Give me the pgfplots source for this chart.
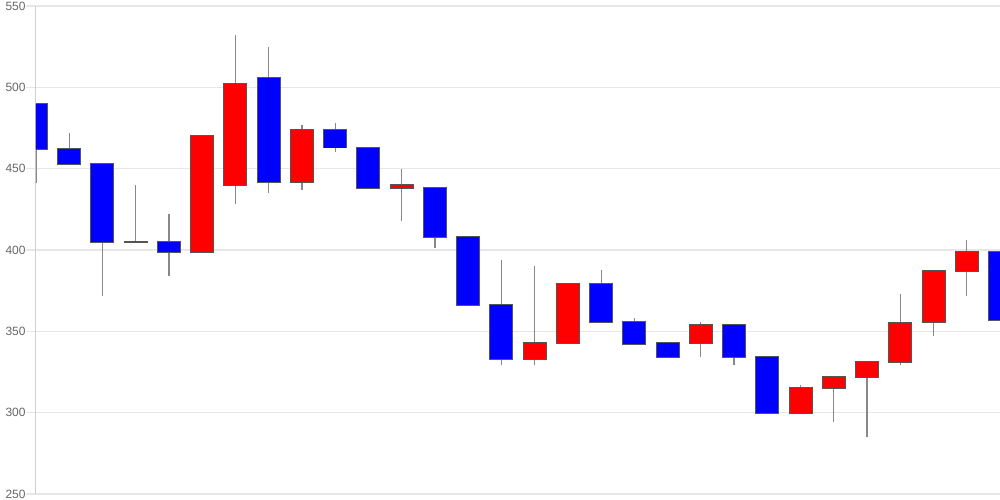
\documentclass[border=0pt]{standalone}
\usepackage{pgfplots}
\pgfplotsset{compat=1.18}
\usepackage{pgfplotstable}
\usepackage{fontspec}
\setmainfont{Liberation Sans}
\definecolor{gridc}{HTML}{E6E6E6}
\definecolor{axc}{HTML}{D0D0D0}
\definecolor{labc}{HTML}{666666}
\definecolor{upc}{HTML}{FF0000}
\definecolor{downc}{HTML}{0000FF}
\definecolor{edgec}{HTML}{555555}
\definecolor{wickc}{HTML}{888888}

\pgfplotstableread{
x open close high low
0 490 462 490 441
1 462 453 472 453
2 453 405 453 372
3 405 405 440 405
4 405 399 422 384
5 399 470 470 399
6 440 502 532 428
7 506 442 525 435
8 442 474 477 437
9 474 463 478 460
10 463 438 463 438
11 438 440 450 418
12 438 408 438 401
13 408 366 408 366
14 366 333 394 329
15 333 343 390 329
16 343 379 379 342
17 379 356 388 356
18 356 342 358 342
19 343 334 343 334
20 343 354 356 334
21 354 334 354 329
22 334 300 334 300
23 300 315 317 300
24 315 322 322 294
25 322 331 332 285
26 331 355 373 329
27 356 387 387 347
28 387 399 406 372
29 399 357 399 357
}\candles

\begin{document}
\begin{tikzpicture}
\begin{axis}[
  scale only axis, width=482pt, height=244pt,
  xmin=0, xmax=29, ymin=250, ymax=550,
  axis x line=none, axis y line*=left,
  axis line style={draw=axc, line width=0.5pt},
  xtick=\empty,
  ytick={250,300,...,550},
  ymajorgrids, grid style={draw=gridc, line width=0.6pt},
  tick align=outside, major tick length=5pt,
  ytick style={draw=gridc, line width=0.6pt},
  yticklabel style={font=\fontsize{6}{7}\selectfont, text=labc, inner sep=0pt},
  /pgf/number format/assume math mode=true,
]
% wicks
\addplot[draw=none, mark=none,
  error bars/.cd, y dir=plus, y explicit, error mark=none,
  error bar style={draw=wickc, line width=0.6pt}]
  table[x=x, y=low, y error plus expr=\thisrow{high}-\thisrow{low}] {\candles};
% body outlines
\addplot[draw=none, mark=none,
  error bars/.cd, y dir=both, y explicit, error mark=none,
  error bar style={draw=edgec, line width=12pt}]
  table[x=x, y expr=(\thisrow{open}+\thisrow{close})/2,
        y error expr=abs(\thisrow{close}-\thisrow{open})/2+0.6] {\candles};
% up bodies
\addplot[draw=none, mark=none,
  x filter/.expression={\thisrow{close}>\thisrow{open} ? x : nan},
  error bars/.cd, y dir=both, y explicit, error mark=none,
  error bar style={draw=upc, line width=11pt}]
  table[x=x, y expr=(\thisrow{open}+\thisrow{close})/2,
        y error expr=abs(\thisrow{close}-\thisrow{open})/2] {\candles};
% down bodies
\addplot[draw=none, mark=none,
  x filter/.expression={\thisrow{close}<\thisrow{open} ? x : nan},
  error bars/.cd, y dir=both, y explicit, error mark=none,
  error bar style={draw=downc, line width=11pt}]
  table[x=x, y expr=(\thisrow{open}+\thisrow{close})/2,
        y error expr=abs(\thisrow{close}-\thisrow{open})/2] {\candles};
\end{axis}
\pgfresetboundingbox
\path[use as bounding box] ([xshift=-18pt,yshift=-3pt]current axis.south west) rectangle ([yshift=3pt]current axis.north east);
\end{tikzpicture}
\end{document}
